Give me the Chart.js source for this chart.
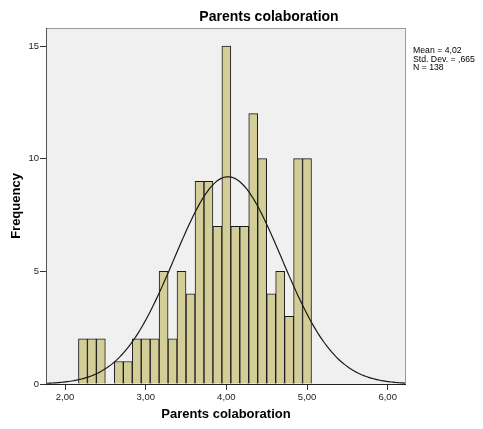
<!DOCTYPE html>
<html>
<head>
<meta charset="utf-8">
<script src="https://cdn.jsdelivr.net/npm/chart.js@4.4.1/dist/chart.umd.min.js"></script>
<style>
  html, body { margin: 0; padding: 0; background: #fff; }
</style>
</head>
<body>
<canvas id="myChart" width="483" height="429"></canvas>
<script>
// histogram bins (centres) and their frequencies
const binCenters = [2.222, 2.333, 2.444, 2.556, 2.667, 2.778, 2.889, 3.000, 3.111, 3.222,
                    3.333, 3.444, 3.556, 3.667, 3.778, 3.889, 4.000, 4.111, 4.222, 4.333,
                    4.444, 4.556, 4.667, 4.778, 4.889, 5.000];
const frequencies = [2, 2, 2, null, 1, 1, 2, 2, 2, 5,
                     2, 5, 4, 9, 9, 7, 15, 7, 7, 12,
                     10, 4, 5, 3, 10, 10];
const xTicks = [2, 3, 4, 5, 6];
const yTicks = [0, 5, 10, 15];
const statsLines = ['Mean = 4,02', 'Std. Dev. = ,665', 'N = 138'];
const mean = 4.02, stdDev = 0.665, nCases = 138, binWidth = 1 / 9;
const xMin = 1.764, xMax = 6.227;

// normal curve from the reported mean / sd / N
const curve = [];
for (let x = xMin; x <= xMax + 1e-9; x += 0.02) {
  const z = (x - mean) / stdDev;
  curve.push({ x: x, y: nCases * binWidth * Math.exp(-0.5 * z * z) / (stdDev * Math.sqrt(2 * Math.PI)) });
}

const fmt = v => v.toFixed(2).replace('.', ',');
const FONT = '"Liberation Sans", Arial, sans-serif';

const framePlugin = {
  id: 'frame',
  beforeDraw(chart) {
    const { ctx, chartArea: a } = chart;
    ctx.save();
    ctx.fillStyle = '#ffffff';
    ctx.fillRect(0, 0, chart.width, chart.height);
    ctx.fillStyle = '#f0f0f0';
    ctx.fillRect(a.left, a.top, a.right - a.left, a.bottom - a.top);
    ctx.restore();
  },
  afterDraw(chart) {
    const { ctx, chartArea: a } = chart;
    ctx.save();
    ctx.lineWidth = 1;
    ctx.strokeStyle = '#9a9a9a';
    ctx.strokeRect(a.left + 0.5, a.top + 0.5, a.right - a.left - 1, a.bottom - a.top);
    ctx.strokeStyle = '#555';
    ctx.beginPath();
    ctx.moveTo(a.left + 0.5, a.top);
    ctx.lineTo(a.left + 0.5, a.bottom + 0.5);
    ctx.stroke();
    ctx.strokeStyle = '#222';
    ctx.beginPath();
    ctx.moveTo(a.left, a.bottom + 0.5);
    ctx.lineTo(a.right, a.bottom + 0.5);
    ctx.stroke();

    ctx.fillStyle = '#000';
    ctx.textAlign = 'center';
    ctx.textBaseline = 'middle';
    ctx.font = 'bold 14px ' + FONT;
    ctx.fillText('Parents colaboration', 269, 17);
    ctx.font = 'bold 13px ' + FONT;
    ctx.fillText('Parents colaboration', (a.left + a.right) / 2, 414);
    ctx.save();
    ctx.translate(16, 206);
    ctx.rotate(-Math.PI / 2);
    ctx.fillText('Frequency', 0, 0);
    ctx.restore();

    ctx.textAlign = 'left';
    ctx.font = '8.7px ' + FONT;
    statsLines.forEach((s, i) => ctx.fillText(s, 413, 51 + i * 8.5));
    ctx.restore();
  }
};

const ctx = document.getElementById('myChart');
new Chart(ctx, {
  type: 'bar',
  data: {
    datasets: [{
      type: 'line',
      data: curve,
      borderColor: '#1a1a1a',
      borderWidth: 1.2,
      pointRadius: 0,
      tension: 0,
      fill: false,
      order: 0
    }, {
      type: 'bar',
      data: binCenters.map((c, i) => ({ x: c, y: frequencies[i] })),
      backgroundColor: '#d3ce97',
      borderColor: '#1a1a1a',
      borderWidth: 1,
      barPercentage: 1,
      categoryPercentage: 1,
      order: 1
    }]
  },
  options: {
    responsive: false,
    animation: false,
    layout: { padding: { top: 28, right: 77, left: 0, bottom: 0 } },
    plugins: { legend: { display: false }, tooltip: { enabled: false } },
    scales: {
      x: {
        type: 'linear',
        offset: false,
        min: xMin,
        max: xMax,
        afterBuildTicks: s => { s.ticks = xTicks.map(v => ({ value: v })); },
        afterFit: s => { s.height = 45; },
        border: { display: false },
        grid: { offset: false, drawOnChartArea: false, drawTicks: true, tickLength: 6, color: '#333' },
        ticks: { callback: v => fmt(v), color: '#222', font: { family: FONT, size: 9.5 }, padding: 2, maxRotation: 0 }
      },
      y: {
        min: 0,
        max: 15.8,
        afterBuildTicks: s => { s.ticks = yTicks.map(v => ({ value: v })); },
        afterFit: s => { s.width = 46; },
        border: { display: false },
        grid: { offset: false, drawOnChartArea: false, drawTicks: true, tickLength: 6, color: '#333' },
        ticks: { color: '#222', font: { family: FONT, size: 9.5 }, padding: 1 }
      }
    }
  },
  plugins: [framePlugin]
});
</script>
</body>
</html>
